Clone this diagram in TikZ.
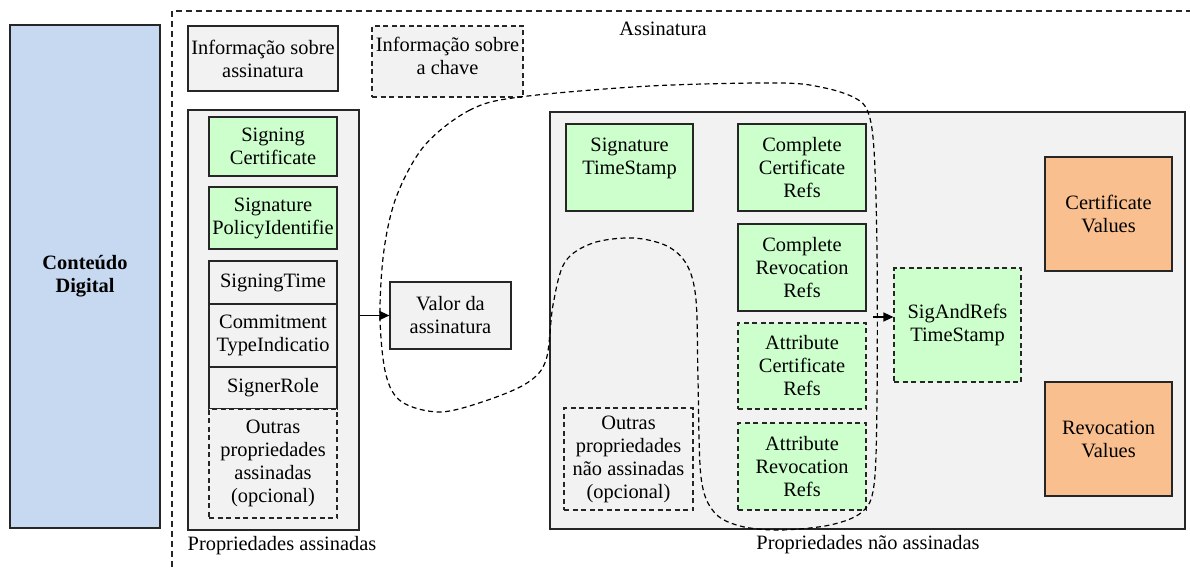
\documentclass[tikz,border=0pt]{standalone}
\usepackage{fontspec}
\setmainfont{Liberation Serif}
\usetikzlibrary{arrows.meta}
\definecolor{cdblue}{HTML}{C6D9F0}
\definecolor{lgray}{HTML}{F2F2F2}
\definecolor{lgreen}{HTML}{CCFFCC}
\definecolor{lorange}{HTML}{F9BF8F}
\definecolor{edge}{HTML}{262626}
\tikzset{
  base/.style={draw=edge, line width=1.2pt, inner sep=0pt, align=center,
    font=\fontsize{20.4}{23}\selectfont},
  graybox/.style={base, fill=lgray},
  greenbox/.style={base, fill=lgreen},
  orangebox/.style={base, fill=lorange},
  bluebox/.style={base, fill=cdblue},
  dsh/.style={dash pattern=on 5pt off 3.5pt},
  lbl/.style={inner sep=0pt, font=\fontsize{20.4}{23}\selectfont},
  arr/.style={line width=1.4pt, -{Triangle[length=10pt,width=9pt]}}
}
\begin{document}
\begin{tikzpicture}[x=1pt,y=-1pt]
\useasboundingbox (0,0) rectangle (1190,567);
% Assinatura region
\coordinate (asBL) at (172,567);
\coordinate (asTL) at (172,11);
\coordinate (asTR) at (1190,11);
\draw[dash pattern=on 6pt off 4pt, line width=1.3pt, draw=edge] (asBL) -- (asTL) -- (asTR);
\node[lbl] (assin) at (663,29) {Assinatura};

% Conteudo digital
\node[bluebox, minimum width=150, minimum height=503, font=\fontsize{20.4}{23}\selectfont\bfseries] (cd) at (85,276.5) {Conteúdo\\Digital};

\node[graybox, minimum width=150, minimum height=65] (infoass) at (263,58.5) {Informação sobre\\assinatura};
\node[graybox, dsh, minimum width=151, minimum height=71] (infochave) at (447.5,61.5) {Informação sobre\\a chave\\[-11pt]\mbox{}};

% Propriedades assinadas
\node[graybox, minimum width=171, minimum height=420] (propass) at (273.5,320) {};
\node[lbl] (lpropass) at (282,546) {Propriedades assinadas};
\node[greenbox, minimum width=128, minimum height=59] (sc) at (273,146.5) {Signing\\Certificate};
\node[greenbox, minimum width=128, minimum height=62] (spi) at (273,218) {Signature\\PolicyIdentifie};
\node[graybox, minimum width=128, minimum height=43] (st) at (273,282.5) {SigningTime};
\node[graybox, minimum width=128, minimum height=63] (cti) at (273,335.5) {Commitment\\TypeIndicatio};
\node[graybox, minimum width=128, minimum height=42] (sr) at (273,388) {SignerRole};
\node[graybox, dsh, minimum width=128, minimum height=109] (oa) at (273,463.5) {Outras\\propriedades\\assinadas\\(opcional)};

% Valor
\node[graybox, minimum width=121, minimum height=67] (valor) at (450.5,315.5) {Valor da\\assinatura};
\draw[arr] (propass.east |- valor.west) -- (valor.west);

% Propriedades nao assinadas
\node[graybox, minimum width=635, minimum height=417] (propnao) at (867.5,320.5) {};
\node[lbl] (lpropnao) at (868,545) {Propriedades não assinadas};
\node[greenbox, minimum width=127, minimum height=87] (sts) at (629.5,167.5) {Signature\\TimeStamp\\\mbox{}};
\node[greenbox, minimum width=128, minimum height=87] (ccr) at (802,167.5) {Complete\\Certificate\\Refs};
\node[greenbox, minimum width=128, minimum height=87] (crr) at (802,267.5) {Complete\\Revocation\\Refs};
\node[greenbox, dsh, minimum width=128, minimum height=86] (acr) at (802,366) {Attribute\\Certificate\\Refs};
\node[greenbox, dsh, minimum width=128, minimum height=87] (arr) at (802,466.5) {Attribute\\Revocation\\Refs};
\node[graybox, dsh, minimum width=129, minimum height=102] (onao) at (628.5,459) {Outras\\propriedades\\não assinadas\\(opcional)};
\node[greenbox, dsh, minimum width=127, minimum height=114] (sarts) at (957.5,325) {SigAndRefs\\TimeStamp};
\node[orangebox, minimum width=127, minimum height=114] (cv) at (1108.5,214) {Certificate\\Values};
\node[orangebox, minimum width=127, minimum height=114] (rv) at (1108.5,439) {Revocation\\Values};

% dashed loop
\draw[dsh, line width=1.2pt, draw=black] plot[smooth cycle, tension=0.55] coordinates {
 (520,97) (470,110) (425,145) (397,195) (384,250) (380,317) (386,375) (402,402)
 (440,412) (485,401) (527,383) (546,360) (553,305) (565,262) (593,243) (633,238)
 (667,246) (687,265) (696,300) (698,380) (701,477) (714,512) (740,526) (780,530)
 (830,525) (862,512) (874,485) (877,400) (877,250) (874,150) (868,112) (855,98)
 (825,88) (780,83) (650,86)};
\coordinate (a2s) at (873,317);
\draw[arr] (a2s) -- (a2s -| sarts.west);
\end{tikzpicture}
\end{document}
